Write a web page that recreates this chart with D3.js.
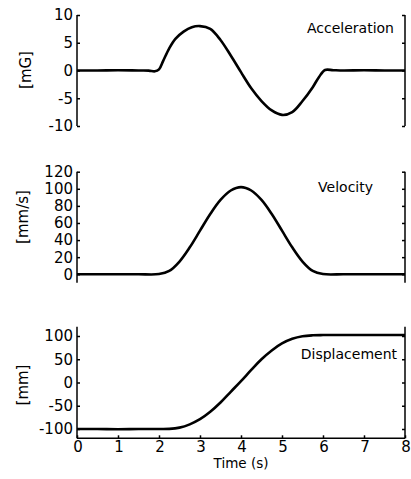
<!DOCTYPE html>
<meta charset="utf-8">
<style>
/*	page and chart styles	*/
body {
  margin: 0;
  background: #fff;
}

text {
  font-family: "DejaVu Sans", Verdana, sans-serif;
  fill: #000;
}

.tick-label {
  font-size: 15px;
}

.panel-title {
  font-size: 14px;
}

.unit-label {
  font-size: 15px;
}

.time-label {
  font-size: 13.5px;
}

.axis-line {
  stroke: #000;
  stroke-width: 1.5px;
  fill: none;
}

.curve {
  stroke: #000;
  stroke-width: 2.6px;
  fill: none;
  stroke-linejoin: round;
}
</style>

<svg id="chart" width="411" height="479"></svg>

<script src="https://cdn.jsdelivr.net/npm/d3@7"></script>

<script>

//	data
var accelTime = [0, 0.5, 1, 1.5, 1.75, 1.9, 2.0, 2.1, 2.25, 2.4, 2.6, 2.8, 3.0, 3.25, 3.5, 3.75, 4.0, 4.25, 4.5, 4.75, 5.0, 5.25, 5.5, 5.75, 5.9, 6.05, 6.25, 6.5, 7, 7.5, 8];
var accelValues = [0, 0, 0.05, 0, -0.02, -0.15, 0.2, 1.7, 4.0, 5.7, 7.0, 7.8, 8.0, 7.5, 5.5, 2.7, -0.3, -3.2, -5.5, -7.2, -8.0, -7.5, -5.5, -3.0, -1.2, 0.1, 0.05, 0, 0.05, 0, 0];

var velTime = [0, 0.5, 1, 1.5, 2.0, 2.25, 2.5, 2.75, 3.0, 3.25, 3.5, 3.75, 4.0, 4.25, 4.5, 4.75, 5.0, 5.25, 5.5, 5.75, 6.0, 6.5, 7, 7.5, 8];
var velValues = [0, 0, 0, 0, 0.2, 3.9, 14.9, 31.5, 51, 70.5, 87, 98, 102, 98, 87, 70.5, 51, 31.5, 14.9, 3.9, 0.2, 0, 0, 0, 0];

var dispTime = [0, 0.5, 1, 1.5, 2.0, 2.25, 2.5, 2.75, 3.0, 3.25, 3.5, 3.75, 4.0, 4.25, 4.5, 4.75, 5.0, 5.25, 5.5, 5.75, 6.0, 7, 8];
var dispValues = [-100, -100, -100.5, -100, -100, -99.7, -97, -90, -79, -63, -43, -20, 3, 27, 50, 69, 84, 94, 99.5, 101.5, 102, 102, 102];

var timeTicks = [0, 1, 2, 3, 4, 5, 6, 7, 8];

var panels = [
  {title: "Acceleration", unit: "[mG]", time: accelTime, values: accelValues,
   domain: [-10, 10], ticks: [-10, -5, 0, 5, 10], top: 15, bottom: 126,
   titleY: 33, titleX: 394, unitX: 26, unitY: 70},
  {title: "Velocity", unit: "[mm/s]", time: velTime, values: velValues,
   domain: [-10, 120], ticks: [0, 20, 40, 60, 80, 100, 120], top: 171.7, bottom: 282.8,
   titleY: 192, titleX: 373, unitX: 23, unitY: 217},
  {title: "Displacement", unit: "[mm]", time: dispTime, values: dispValues,
   domain: [-120, 120], ticks: [-100, -50, 0, 50, 100], top: 326.7, bottom: 438.3,
   titleY: 359, titleX: 397, unitX: 23, unitY: 385}
];

var svg = d3.select("#chart"),
    left = 77,
    right = 405,
    tickLen = 3;

var x = d3.scaleLinear()
    .domain([0, 8])
    .range([left, right]);

function styleTicks(a) {
  a.select(".domain").remove();
  a.selectAll("line").attr("stroke", "#000").attr("stroke-width", 1.5);
}

panels.forEach(function(p, i) {
  var y = d3.scaleLinear()
      .domain(p.domain)
      .range([p.bottom, p.top]);

  var g = svg.append("g");

  // left axis, ticks pointing in
  g.append("g")
      .attr("transform", "translate(" + left + ",0)")
      .call(d3.axisRight(y).tickValues(p.ticks).tickSize(tickLen).tickFormat(""))
      .call(styleTicks);

  // right axis, ticks pointing in
  g.append("g")
      .attr("transform", "translate(" + right + ",0)")
      .call(d3.axisLeft(y).tickValues(p.ticks).tickSize(tickLen).tickFormat(""))
      .call(styleTicks);

  g.append("line").attr("class", "axis-line")
      .attr("x1", left).attr("x2", left)
      .attr("y1", p.top).attr("y2", p.bottom);
  g.append("line").attr("class", "axis-line")
      .attr("x1", right).attr("x2", right)
      .attr("y1", p.top).attr("y2", p.bottom);

  // y tick labels
  g.selectAll(".y-label")
    .data(p.ticks)
    .enter().append("text")
      .attr("class", "tick-label y-label")
      .attr("x", left - 4)
      .attr("y", function(d) { return y(d); })
      .attr("dy", "0.36em")
      .attr("text-anchor", "end")
      .text(function(d) { return d; });

  // unit label
  g.append("text")
      .attr("class", "unit-label")
      .attr("transform", "translate(" + p.unitX + "," + p.unitY + ") rotate(-90)")
      .attr("text-anchor", "middle")
      .attr("dy", "0.35em")
      .text(p.unit);

  // panel title
  g.append("text")
      .attr("class", "panel-title")
      .attr("x", p.titleX)
      .attr("y", p.titleY)
      .attr("text-anchor", "end")
      .text(p.title);

  // the curve
  var line = d3.line()
      .x(function(d, j) { return x(p.time[j]); })
      .y(function(d) { return y(d); })
      .curve(d3.curveCatmullRom.alpha(0.5));

  g.append("path")
      .attr("class", "curve")
      .attr("d", line(p.values));

  // time axis only on the last panel
  if (i === panels.length - 1) {
    g.append("g")
        .attr("transform", "translate(0," + p.bottom + ")")
        .call(d3.axisTop(x).tickValues(timeTicks).tickSize(tickLen).tickFormat(""))
        .call(styleTicks);

    g.append("line").attr("class", "axis-line")
        .attr("x1", left).attr("x2", right)
        .attr("y1", p.bottom).attr("y2", p.bottom);

    g.selectAll(".x-label")
      .data(timeTicks)
      .enter().append("text")
        .attr("class", "tick-label x-label")
        .attr("x", function(d) { return x(d) + 1; })
        .attr("y", 452)
        .attr("text-anchor", "middle")
        .text(function(d) { return d; });

    g.append("text")
        .attr("class", "time-label")
        .attr("x", x(4))
        .attr("y", 468)
        .attr("text-anchor", "middle")
        .text("Time (s)");
  }
});
</script>
